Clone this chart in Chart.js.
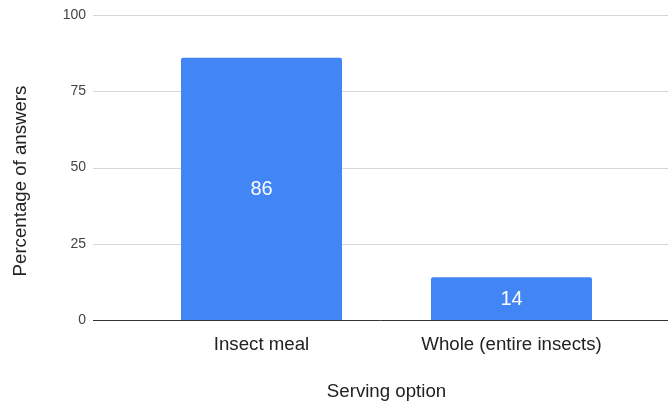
<!DOCTYPE html>
<html>
<head>
<meta charset="utf-8">
<script src="https://cdn.jsdelivr.net/npm/chart.js@4/dist/chart.umd.min.js"></script>
<style>
  html, body { margin: 0; padding: 0; background: #fff; }
  #wrap { width: 668px; height: 405px; position: relative; }
</style>
</head>
<body>
<div id="wrap"><canvas id="c" width="668" height="405"></canvas></div>
<script>
const categories = ['Insect meal', 'Whole (entire insects)'];
const shares = [86, 14];
const yTicks = [0, 25, 50, 75, 100];
const xTitle = 'Serving option';
const yTitle = 'Percentage of answers';

const FONT = "'Liberation Sans', Arial, sans-serif";
const TITLE_SIZE = 18.67;

// Horizontal gridlines spanning wider than the bar area, with a dark zero line on top of the bars
function hLine(ctx, py, color) {
  ctx.strokeStyle = color;
  ctx.lineWidth = 1;
  ctx.beginPath();
  ctx.moveTo(93, py);
  ctx.lineTo(668, py);
  ctx.stroke();
}
const gridPlugin = {
  id: 'wideGrid',
  beforeDatasetsDraw(chart) {
    const { ctx } = chart;
    const y = chart.scales.y;
    ctx.save();
    yTicks.forEach(v => {
      if (v === 0) return;
      hLine(ctx, Math.round(y.getPixelForValue(v)) + 0.5, '#d6d6d6');
    });
    ctx.restore();
  },
  afterDatasetsDraw(chart) {
    const { ctx } = chart;
    const y = chart.scales.y;
    ctx.save();
    hLine(ctx, Math.round(y.getPixelForValue(0)) + 0.5, '#333333');
    ctx.restore();
  }
};

// Vertical axis title, centred on the full canvas height
const yTitlePlugin = {
  id: 'yTitle',
  afterDraw(chart) {
    const { ctx } = chart;
    ctx.save();
    ctx.translate(20.5, 181);
    ctx.rotate(-Math.PI / 2);
    ctx.fillStyle = '#222222';
    ctx.font = TITLE_SIZE + 'px ' + FONT;
    ctx.textAlign = 'center';
    ctx.textBaseline = 'middle';
    ctx.fillText(yTitle, 0, 0);
    ctx.restore();
  }
};

// Value labels centred inside each bar
const valueLabels = {
  id: 'valueLabels',
  afterDatasetsDraw(chart) {
    const { ctx } = chart;
    const meta = chart.getDatasetMeta(0);
    const data = chart.data.datasets[0].data;
    ctx.save();
    ctx.fillStyle = '#ffffff';
    ctx.font = '20px ' + FONT;
    ctx.textAlign = 'center';
    ctx.textBaseline = 'middle';
    meta.data.forEach((bar, i) => {
      const cy = (bar.y + bar.base) / 2;
      ctx.fillText(String(data[i]), bar.x, cy + 1);
    });
    ctx.restore();
  }
};

new Chart(document.getElementById('c'), {
  type: 'bar',
  data: {
    labels: categories,
    datasets: [{
      data: shares,
      backgroundColor: '#4285f4',
      borderRadius: 2,
      borderSkipped: 'bottom',
      categoryPercentage: 1,
      barPercentage: 0.644
    }]
  },
  options: {
    responsive: false,
    animation: false,
    devicePixelRatio: 1,
    layout: { padding: { left: 0, right: 31.5, top: 15, bottom: 0 } },
    plugins: { legend: { display: false }, tooltip: { enabled: false } },
    scales: {
      x: {
        offset: true,
        grid: { display: false },
        border: { display: false },
        ticks: { color: '#222222', font: { family: FONT, size: TITLE_SIZE }, padding: 6, maxRotation: 0 },
        title: { display: true, text: xTitle, color: '#222222', font: { family: FONT, size: TITLE_SIZE }, padding: { top: 0, bottom: 1.5 } },
        afterFit(s) { s.height = 85; }
      },
      y: {
        min: 0, max: 100,
        afterBuildTicks(s) { s.ticks = yTicks.map(v => ({ value: v })); },
        grid: { display: false },
        border: { display: false },
        ticks: { color: '#444444', font: { family: FONT, size: 14 }, padding: 42.5 },
        afterFit(s) {
          s.width = 136.5;
          s.paddingTop = 0;
          s.paddingBottom = 0;
        }
      }
    }
  },
  plugins: [gridPlugin, valueLabels, yTitlePlugin]
});
</script>
</body>
</html>
